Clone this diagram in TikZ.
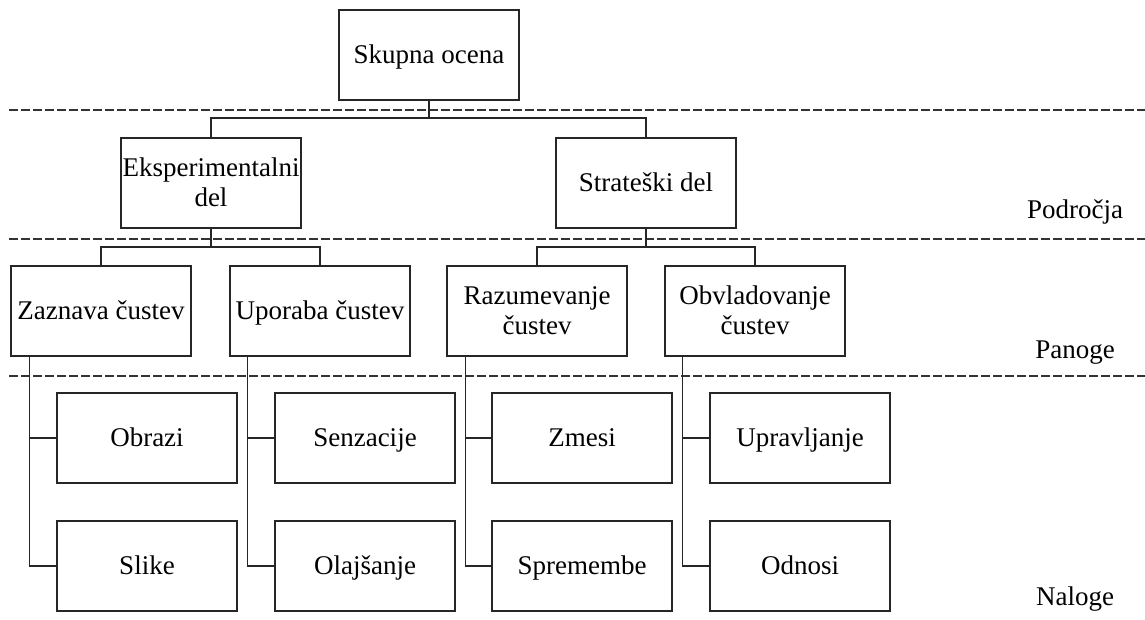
\documentclass[tikz,border=0pt]{standalone}
\usepackage{fontspec}
\setmainfont{Liberation Serif}
\usetikzlibrary{calc}
\newcommand{\vs}{\rule[-4.1pt]{0pt}{21pt}}
\begin{document}
\begin{tikzpicture}[x=0.75pt,y=-0.75pt,
  txt/.style={font=\fontsize{20.25pt}{21pt}\selectfont},
  box/.style={txt,draw=black!85,line width=0.8pt,minimum width=135pt,minimum height=67.5pt,inner sep=0pt,align=center},
  lbl/.style={txt,inner sep=0pt},
  conn/.style={draw=black!85,line width=0.8pt},
  sepline/.style={draw=black!80,line width=0.8pt,dash pattern=on 6.5pt off 2.5pt}]
\useasboundingbox (0,0) rectangle (1145,619);
% separators
\draw[sepline] (9,110) -- (1145,110);
\draw[sepline] (9,239) -- (1145,239);
\draw[sepline] (9,376) -- (1145,376);
% labels
\node[lbl] (podrocja) at (1075,210) {\vs Področja};
\node[lbl] (panoge) at (1075,350) {\vs Panoge};
\node[lbl] (naloge) at (1075,597) {\vs Naloge};
% level 0
\node[box] (top) at (429,55) {\vs Skupna ocena};
% level 1
\node[box] (eksp) at (211,183) {\vs Eksperimentalni\\\vs del};
\node[box] (strat) at (646,183) {\vs Strateški del};
% level 2
\node[box] (zaz) at (101,311) {\vs Zaznava čustev};
\node[box] (upo) at (320,311) {\vs Uporaba čustev};
\node[box] (raz) at (537,311) {\vs Razumevanje\\\vs čustev};
\node[box] (obv) at (755,311) {\vs Obvladovanje\\\vs čustev};
% level 3
\node[box] (obr) at (147,438) {\vs Obrazi};
\node[box] (sli) at (147,566) {\vs Slike};
\node[box] (sen) at (365,438) {\vs Senzacije};
\node[box] (ola) at (365,566) {\vs Olajšanje};
\node[box] (zme) at (582,438) {\vs Zmesi};
\node[box] (spr) at (582,566) {\vs Spremembe};
\node[box] (upr) at (800,438) {\vs Upravljanje};
\node[box] (odn) at (800,566) {\vs Odnosi};
% connectors level 0-1
\coordinate (j0) at (429,118);
\draw[conn] (top.south) -- (j0);
\draw[conn] (eksp.north) |- (j0) -| (strat.north);
% level 1-2
\coordinate (j1) at (211,247);
\draw[conn] (eksp.south) -- (j1);
\draw[conn] (zaz.north) |- (j1) -| (upo.north);
\coordinate (j2) at (646,247);
\draw[conn] (strat.south) -- (j2);
\draw[conn] (raz.north) |- (j2) -| (obv.north);
% level 2-3
\draw[conn] (zaz.south west) ++(19,0) coordinate (v1) |- (sli.west);
\draw[conn] (obr.west) -- (obr.west -| v1);
\draw[conn] (upo.south west) ++(18,0) coordinate (v2) |- (ola.west);
\draw[conn] (sen.west) -- (sen.west -| v2);
\draw[conn] (raz.south west) ++(19,0) coordinate (v3) |- (spr.west);
\draw[conn] (zme.west) -- (zme.west -| v3);
\draw[conn] (obv.south west) ++(18,0) coordinate (v4) |- (odn.west);
\draw[conn] (upr.west) -- (upr.west -| v4);
\end{tikzpicture}
\end{document}
